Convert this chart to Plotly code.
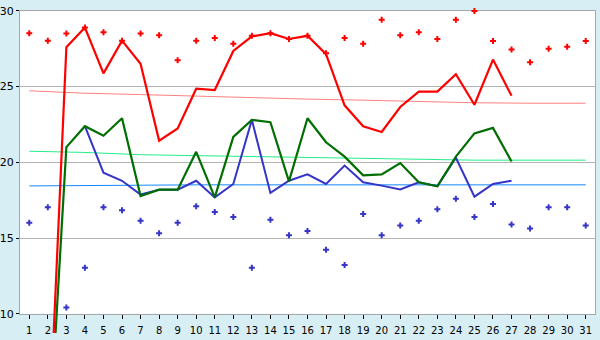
import plotly.graph_objects as go

days = list(range(1, 32))
tick_labels = [str(d) for d in days]

# scattered daily extremes
red_dot_days = days
red_dots = [28.52, 28.03, 28.5, 28.9, 28.58, 28.03, 28.5, 28.39, 26.74, 28.03, 28.2,
            27.82, 28.35, 28.52, 28.14, 28.35, 27.19, 28.2, 27.82, 29.41, 28.39, 28.58,
            28.14, 29.41, 29.98, 28.01, 27.44, 26.61, 27.5, 27.63, 28.01]
blue_dot_days = days
blue_dots = [16.01, 17.03, 10.42, 13.03, 17.03, 16.84, 16.14, 15.31, 16.01, 17.09, 16.71,
             16.39, 13.03, 16.2, 15.19, 15.46, 14.23, 13.22, 16.58, 15.19, 15.82, 16.14,
             16.9, 17.6, 16.39, 17.24, 15.89, 15.63, 17.03, 17.03, 15.82]

# main series
red_days = list(range(2, 28))
red_vals = [0, 27.6, 28.9, 25.87, 28.03, 26.5, 21.43, 22.23, 24.86, 24.77, 27.35, 28.31,
            28.52, 28.14, 28.35, 27.14, 23.76, 22.38, 22.0, 23.65, 24.67, 24.67, 25.81,
            23.8, 26.78, 24.39]
green_days = list(range(2, 28))
green_vals = [0, 21.0, 22.38, 21.75, 22.91, 17.77, 18.19, 18.19, 20.69, 17.68, 21.68, 22.8,
              22.65, 18.74, 22.91, 21.32, 20.37, 19.14, 19.2, 19.95, 18.68, 18.42, 20.37,
              21.91, 22.27, 20.05]
blue_days = list(range(4, 28))
blue_vals = [22.38, 19.31, 18.78, 17.87, 18.19, 18.19, 18.78, 17.68, 18.57, 22.8, 17.98,
             18.78, 19.2, 18.57, 19.78, 18.68, 18.46, 18.2, 18.68, 18.42, 20.3, 17.73,
             18.57, 18.78]

# long-term reference lines
trend_days = [1, 4, 7, 10, 13, 16, 19, 22, 25, 28, 31]
pink_trend = [24.72, 24.56, 24.47, 24.36, 24.27, 24.17, 24.1, 24.02, 23.93, 23.9, 23.9]
green_trend = [20.73, 20.65, 20.5, 20.44, 20.37, 20.3, 20.22, 20.17, 20.14, 20.14, 20.14]
blue_trend = [18.44, 18.47, 18.5, 18.51, 18.51, 18.51, 18.51, 18.51, 18.51, 18.51, 18.51]

W, H = 600, 340
L, R, T, B = 20, 595, 5, 320
XMIN, XMAX = 0.5, 31.5
YMIN, YMAX = 10, 30
px_x = (R - L) / (XMAX - XMIN)
px_y = (B - T) / (YMAX - YMIN)

fig = go.Figure()

for yv, col in [(pink_trend, "#FF8080"), (green_trend, "#22EE88"), (blue_trend, "#1188FF")]:
    fig.add_trace(go.Scatter(x=trend_days, y=yv, mode="lines", line=dict(color=col, width=1),
                             xaxis="x", yaxis="y", hoverinfo="skip"))

fig.add_trace(go.Scatter(x=blue_days, y=blue_vals, mode="lines",
                         line=dict(color="#3535C8", width=2), xaxis="x2", yaxis="y2"))
fig.add_trace(go.Scatter(x=green_days, y=green_vals, mode="lines",
                         line=dict(color="#006E00", width=2.2), xaxis="x2", yaxis="y2"))
fig.add_trace(go.Scatter(x=red_days, y=red_vals, mode="lines",
                         line=dict(color="#FF0000", width=2.2), xaxis="x2", yaxis="y2"))
fig.add_trace(go.Scatter(x=red_dot_days, y=red_dots, mode="markers",
                         marker=dict(symbol="cross", size=5, color="#FF0000"),
                         xaxis="x2", yaxis="y2", cliponaxis=False))
fig.add_trace(go.Scatter(x=blue_dot_days, y=blue_dots, mode="markers",
                         marker=dict(symbol="cross", size=5, color="#3535C8"),
                         xaxis="x2", yaxis="y2", cliponaxis=False))

fig.update_layout(
    width=W, height=H, margin=dict(l=0, r=0, t=0, b=0),
    paper_bgcolor="#D8EEF5", plot_bgcolor="rgba(0,0,0,0)",
    showlegend=False,
    font=dict(family="DejaVu Sans", color="black"),
    xaxis=dict(domain=[L / W, R / W], range=[XMIN, XMAX], tickvals=days, ticktext=tick_labels,
               ticks="outside", ticklen=4, tickcolor="black", showgrid=False, zeroline=False,
               showline=True, linecolor="#A8A8A8", mirror=True, tickfont=dict(size=10),
               ticklabelstandoff=3, fixedrange=True),
    yaxis=dict(domain=[1 - B / H, 1 - T / H], range=[YMIN, YMAX], tickvals=[10, 15, 20, 25, 30],
               ticks="outside", ticklen=3, tickcolor="black", showgrid=True, gridcolor="#B4B4B4",
               zeroline=False, showline=True, linecolor="#A8A8A8", mirror=True,
               tickfont=dict(size=11), ticklabelstandoff=0, ticklabeloverflow="allow",
               fixedrange=True),
    xaxis2=dict(domain=[0, 1], anchor="y2",
                range=[XMIN - L / px_x, XMAX + (W - R) / px_x], visible=False, fixedrange=True),
    yaxis2=dict(domain=[0, 1], anchor="x2",
                range=[YMIN - (H - B) / px_y, YMAX + T / px_y], visible=False, fixedrange=True),
    shapes=[dict(type="rect", xref="x domain", yref="y domain", x0=0, x1=1, y0=0, y1=1,
                 fillcolor="white", line=dict(width=0), layer="below")],
)

fig.write_html("out.html")
